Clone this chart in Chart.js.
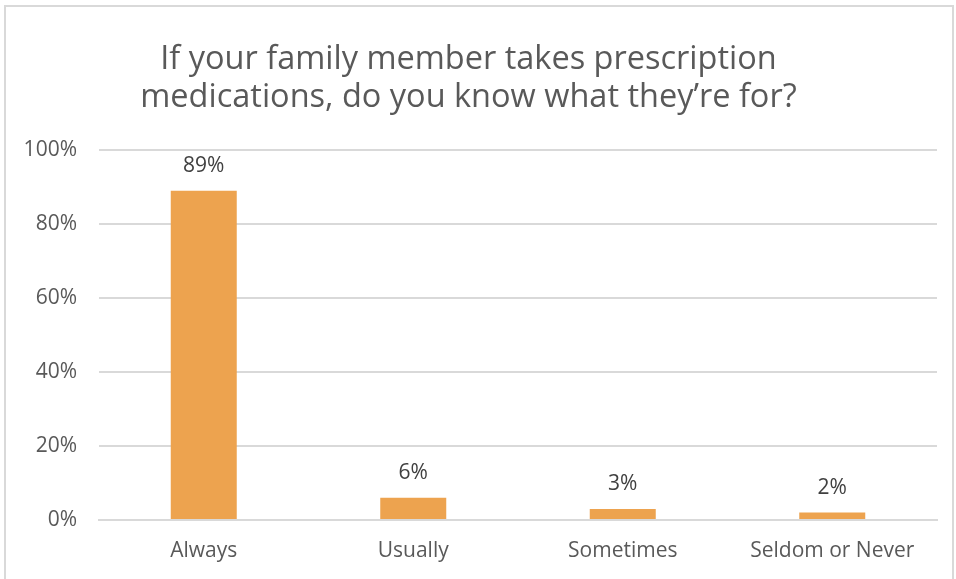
<!DOCTYPE html>
<html>
<head>
<meta charset="utf-8">
<script src="https://cdn.jsdelivr.net/npm/chart.js@4"></script>
<style>
  html, body { margin: 0; padding: 0; background: #fff; overflow: hidden; }
  #wrap { position: absolute; left: 0; top: 0; width: 956px; height: 579px; }
  #frame { position: absolute; left: 4px; top: 5px; width: 950px; height: 620px; border: 2px solid #d9d9d9; box-sizing: border-box; }
</style>
</head>
<body>
<div id="frame"></div>
<div id="wrap"><canvas id="chart"></canvas></div>
<script>
const categories = ['Always', 'Usually', 'Sometimes', 'Seldom or Never'];
const percentValues = [89, 6, 3, 2];
const yTicks = [0, 20, 40, 60, 80, 100];

const textColor = '#595959';
const fontFamily = '"Open Sans", "Noto Sans", sans-serif';

// draws the value above each bar
const barLabels = {
    id: 'barLabels',
    afterDatasetsDraw(chart) {
        const ctx = chart.ctx;
        const meta = chart.getDatasetMeta(0);
        ctx.save();
        ctx.font = '21px ' + fontFamily;
        ctx.fillStyle = '#404040';
        ctx.textAlign = 'center';
        ctx.textBaseline = 'middle';
        meta.data.forEach((bar, i) => {
            ctx.fillText(percentValues[i] + '%', bar.x, bar.y - 25);
        });
        ctx.restore();
    }
};

new Chart(document.getElementById('chart'), {
    type: 'bar',
    data: {
        labels: categories,
        datasets: [{
            data: percentValues,
            backgroundColor: '#EDA34F',
            categoryPercentage: 1,
            barPercentage: 0.315
        }]
    },
    options: {
        responsive: true,
        maintainAspectRatio: false,
        animation: false,
        layout: { padding: { left: 0, right: 19, top: 20, bottom: 0 } },
        plugins: {
            legend: { display: false },
            tooltip: { enabled: false },
            title: {
                display: true,
                text: ['If your family member takes prescription', 'medications, do you know what they\u2019re for?'],
                color: textColor,
                font: { family: fontFamily, size: 32.5, weight: 'normal', lineHeight: 1.19 },
                padding: { top: 20, bottom: 32.6 }
            }
        },
        scales: {
            x: {
                afterFit: (scale) => { scale.height = 59; },
                grid: { display: false },
                border: { color: '#d9d9d9', width: 2 },
                ticks: { color: textColor, font: { family: fontFamily, size: 21 }, padding: 10 }
            },
            y: {
                min: 0,
                max: 100,
                afterBuildTicks: (scale) => { scale.ticks = yTicks.map(v => ({ value: v })); },
                afterFit: (scale) => { scale.width = 99; },
                grid: { color: '#d9d9d9', lineWidth: 2, drawTicks: false },
                border: { display: false },
                ticks: {
                    color: textColor,
                    font: { family: fontFamily, size: 21 },
                    padding: 22,
                    callback: (v) => v + '%'
                }
            }
        }
    },
    plugins: [barLabels]
});
</script>
</body>
</html>
